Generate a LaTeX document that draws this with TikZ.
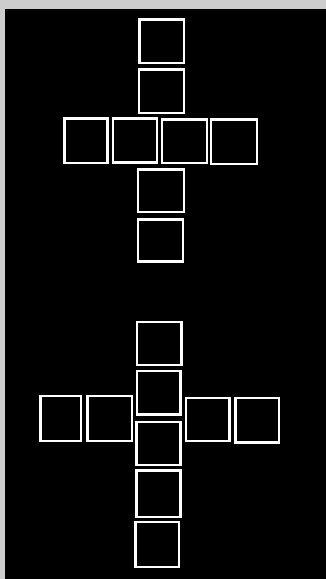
\documentclass[tikz,border=0pt]{standalone}
\definecolor{bggray}{HTML}{CDCDCD}
\tikzset{
  sq/.style={draw=white, line width=2.5pt, inner sep=0pt, outer sep=0pt, fill=none},
}
\newcommand{\sqbox}[5]{\node[sq, minimum width=#4pt, minimum height=#5pt] (#1) at (#2,#3) {};}
\begin{document}
\begin{tikzpicture}[x=1pt,y=-1pt]
\fill[bggray] (0,0) rectangle (326,579);
\fill[black] (5,8.7) rectangle (326,579);
\useasboundingbox (0,0) rectangle (326,579);
% first cross
\sqbox{ta}{161.8}{41.3}{44.7}{43.7}
\sqbox{tb}{161.5}{91.3}{44.7}{43.7}
\sqbox{ra}{86}{140.8}{43.1}{44.7}
\sqbox{rb}{135.2}{140.5}{44}{44.1}
\sqbox{rc}{184.5}{141.3}{44.7}{43.7}
\sqbox{rd}{234.2}{141.8}{46}{44.7}
\sqbox{ba}{161}{190.8}{45.7}{42.7}
\sqbox{bb}{160.5}{240.5}{44.7}{42.1}
% second cross
\sqbox{ua}{159.3}{343.5}{44.4}{42.7}
\sqbox{ub}{158.8}{392.8}{43.4}{43.4}
\sqbox{la}{60.8}{418.7}{40.7}{45}
\sqbox{lb}{109.8}{418.7}{44.7}{45}
\sqbox{mm}{158.5}{443.3}{44.1}{43}
\sqbox{qa}{207.8}{419.7}{43.4}{43}
\sqbox{qb}{257.3}{420.3}{43.7}{44.4}
\sqbox{da}{158.5}{493.7}{44.1}{46.4}
\sqbox{db}{157.3}{544.7}{43.7}{45}
\end{tikzpicture}
\end{document}
